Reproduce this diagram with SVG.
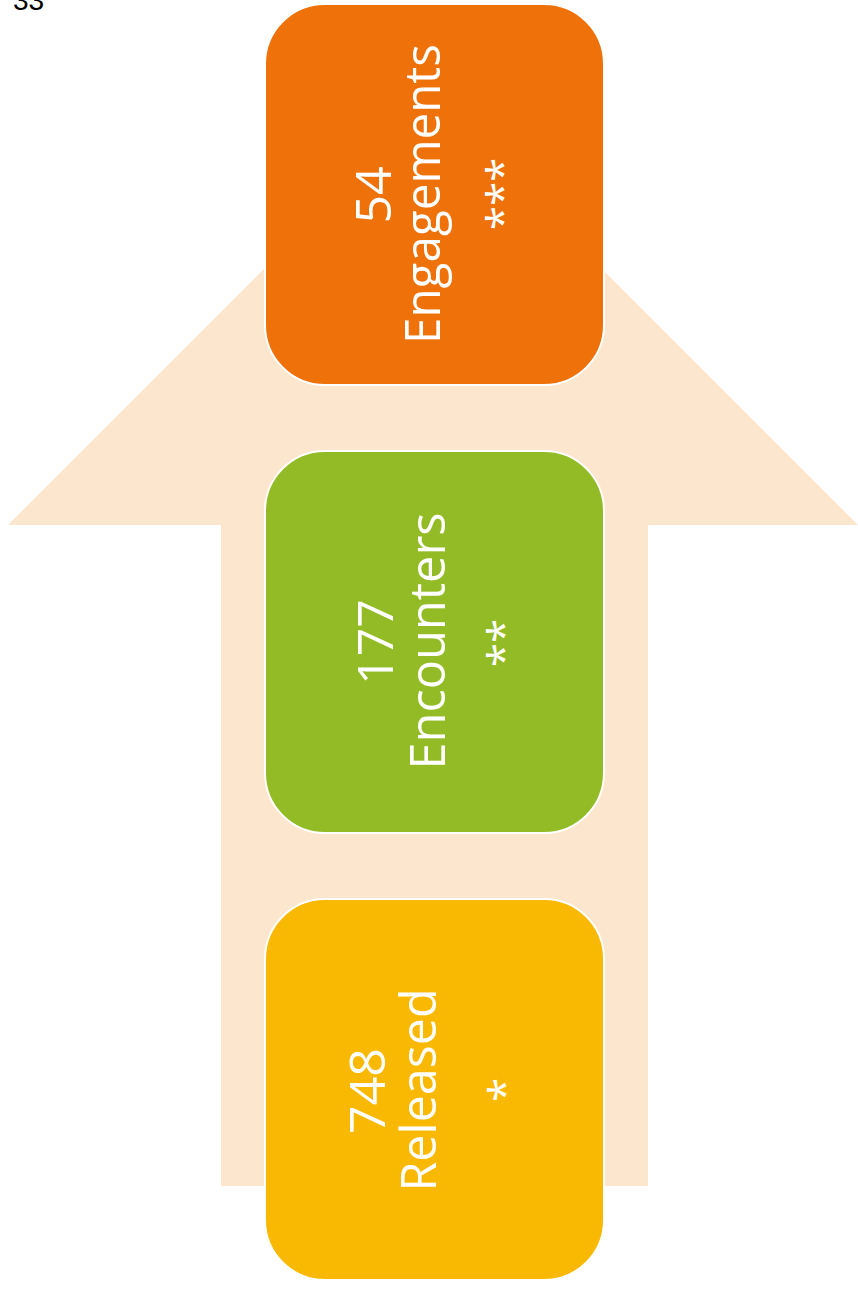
<svg xmlns="http://www.w3.org/2000/svg" width="858" height="1289" viewBox="0 0 858 1289">
  <style>
    .box { stroke: #FFFFFF; stroke-width: 2; }
    .lbl { font-family: "Open Sans", "Noto Sans", sans-serif; fill: #FFFFFF; text-anchor: middle; }
    .big { font-size: 50px; }
    .star { font-size: 44px; }
    .pageno { font-family: "Liberation Sans", Arial, sans-serif; font-size: 28px; fill: #000000; }
  </style>

  <rect x="0" y="0" width="858" height="1289" fill="#FFFFFF"/>

  <!-- page number, partly off the top edge -->
  <text class="pageno" x="13" y="10">33</text>

  <!-- connectors: the broad upward arrow behind the stages -->
  <g id="connectors">
    <polygon points="433,100 858,525 648,525 648,1186 221,1186 221,525 8,525" fill="#FDE6CE"/>
  </g>

  <!-- stage 1 (top) -->
  <g id="node-engagements">
    <rect class="box" x="265" y="4" width="339" height="381" rx="60" ry="60" fill="#EE7109"/>
    <text class="lbl big" transform="translate(391,195) rotate(-90)">54</text>
    <text class="lbl big" transform="translate(440,194) rotate(-90)" textLength="300" lengthAdjust="spacingAndGlyphs">Engagements</text>
    <text class="lbl star" transform="translate(518,194) rotate(-90)">***</text>
  </g>

  <!-- stage 2 (middle) -->
  <g id="node-encounters">
    <rect class="box" x="265" y="451" width="339" height="382" rx="60" ry="60" fill="#93BB25"/>
    <text class="lbl big" transform="translate(393,642) rotate(-90)">177</text>
    <text class="lbl big" transform="translate(445,641) rotate(-90)" textLength="257" lengthAdjust="spacingAndGlyphs">Encounters</text>
    <text class="lbl star" transform="translate(519,643) rotate(-90)">**</text>
  </g>

  <!-- stage 3 (bottom) -->
  <g id="node-released">
    <rect class="box" x="265" y="899" width="339" height="381" rx="60" ry="60" fill="#F9B801"/>
    <text class="lbl big" transform="translate(385,1091) rotate(-90)">748</text>
    <text class="lbl big" transform="translate(436,1090) rotate(-90)" textLength="203" lengthAdjust="spacingAndGlyphs">Released</text>
    <text class="lbl star" transform="translate(520,1090) rotate(-90)">*</text>
  </g>
</svg>
